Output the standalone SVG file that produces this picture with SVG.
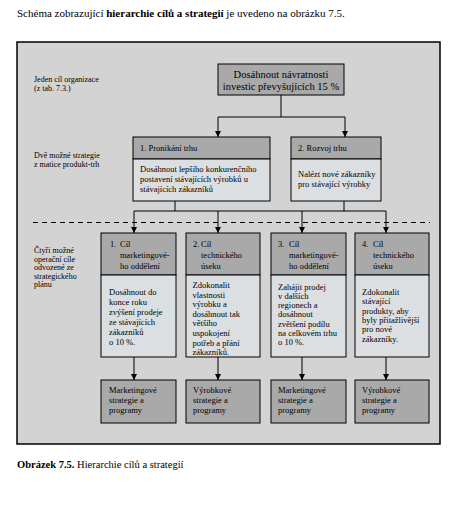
<svg xmlns="http://www.w3.org/2000/svg" width="456" height="513" viewBox="0 0 456 513" font-family="'Liberation Serif', 'Times New Roman', serif">
<defs>
<marker id="ah" viewBox="0 0 6 6" refX="6" refY="3" markerWidth="6" markerHeight="6" orient="auto" markerUnits="userSpaceOnUse">
<path d="M0,0 L6,3 L0,6 z" fill="#000"/>
</marker>
<style>
text{font-family:'Liberation Serif','Times New Roman',serif;fill:#000}
.t{font-size:11px}
.cap{font-size:10.5px}
.lbl{font-size:8px}
.s{font-size:8.5px}
.top{font-size:10.5px}
.hd{fill:#a9a9a9;stroke:#000;stroke-width:1}
.bd{fill:#dcdfe2;stroke:#000;stroke-width:1}
.ln{stroke:#000;stroke-width:1;fill:none}
.ar{stroke:#000;stroke-width:1;fill:none;marker-end:url(#ah)}
</style>
</defs>
<rect width="456" height="513" fill="#fff"/>
<text class="t" x="17" y="17">Schéma zobrazující <tspan font-weight="bold">hierarchie cílů a strategií</tspan> je uvedeno na obrázku 7.5.</text>
<rect x="17" y="42" width="423" height="402" fill="#d3d3d3" stroke="#000" stroke-width="1.5"/>

<g id="labels">
<text class="lbl" x="34" y="82">Jeden cíl organizace</text>
<text class="lbl" x="34" y="91">(z tab. 7.3.)</text>
<text class="lbl" x="34" y="158">Dvě možné strategie</text>
<text class="lbl" x="34" y="167">z matice produkt-trh</text>
<text class="lbl" x="34" y="253">Čtyři možné</text>
<text class="lbl" x="34" y="261.5">operační cíle</text>
<text class="lbl" x="34" y="270">odvozené ze</text>
<text class="lbl" x="34" y="278.5">strategického</text>
<text class="lbl" x="34" y="287">plánu</text>
</g>

<g id="connectors">
<path class="ln" d="M281,95 V117 M218,117 H345"/>
<path class="ar" d="M218,117 V137"/>
<path class="ar" d="M345,117 V137"/>
<path class="ln" d="M175,201 V211 M344,201 V211 M134,211 H386"/>
<path class="ar" d="M134,211 V233"/>
<path class="ar" d="M218,211 V233"/>
<path class="ar" d="M302,211 V233"/>
<path class="ar" d="M386,211 V233"/>
<path class="ar" d="M134,357 V380"/>
<path class="ar" d="M218,357 V380"/>
<path class="ar" d="M302,357 V380"/>
<path class="ar" d="M386,357 V380"/>
<path d="M33,222.5 H430" stroke="#000" stroke-width="1" stroke-dasharray="5,4"/>
</g>

<g id="goal">
<rect class="hd" x="218" y="64" width="126" height="31" fill="#a6a6a6"/>
<text class="top" x="281" y="78" text-anchor="middle">Dosáhnout návratnosti</text>
<text class="top" x="281" y="90" text-anchor="middle">investic převyšujících 15 %</text>
</g>

<g id="strategy1">
<rect class="hd" x="133" y="137" width="137" height="22"/>
<rect class="bd" x="133" y="159" width="137" height="42"/>
<text class="s" x="140" y="151">1.  Pronikání trhu</text>
<text class="s" x="140" y="172">Dosáhnout lepšího  konkurenčního</text>
<text class="s" x="140" y="182">postavení stávajících  výrobků  u</text>
<text class="s" x="140" y="192">stávajících zákazníků</text>
</g>

<g id="strategy2">
<rect class="hd" x="291" y="137" width="90" height="22"/>
<rect class="bd" x="291" y="159" width="90" height="42"/>
<text class="s" x="298" y="151">2.  Rozvoj trhu</text>
<text class="s" x="298" y="177">Nalézt nové zákazníky</text>
<text class="s" x="298" y="187">pro stávající výrobky</text>
</g>

<g id="op1">
<rect class="hd" x="101" y="233" width="75" height="42"/>
<rect class="bd" x="101" y="275" width="75" height="82"/>
<text class="s" x="110" y="247">1.</text>
<text class="s" x="120" y="247">Cíl</text>
<text class="s" x="120" y="258">marketingové-</text>
<text class="s" x="120" y="268.5">ho oddělení</text>
<text class="s" x="109" y="294.5">Dosáhnout do</text>
<text class="s" x="109" y="304.5">konce roku</text>
<text class="s" x="109" y="314.5">zvýšení prodeje</text>
<text class="s" x="109" y="324.5">ze stávajících</text>
<text class="s" x="109" y="334.5">zákazníků</text>
<text class="s" x="109" y="344.5">o 10 %.</text>
</g>

<g id="op2">
<rect class="hd" x="186" y="233" width="74" height="42"/>
<rect class="bd" x="186" y="275" width="74" height="82"/>
<text class="s" x="193" y="247">2.</text>
<text class="s" x="201" y="247">Cíl</text>
<text class="s" x="201" y="258">technického</text>
<text class="s" x="201" y="268.5">úseku</text>
<text class="s" x="192.5" y="288">Zdokonalit</text>
<text class="s" x="192.5" y="297.6">vlastnosti</text>
<text class="s" x="192.5" y="307.2">výrobku a</text>
<text class="s" x="192.5" y="316.8">dosáhnout tak</text>
<text class="s" x="192.5" y="326.4">většího</text>
<text class="s" x="192.5" y="336">uspokojení</text>
<text class="s" x="192.5" y="345.6">potřeb a přání</text>
<text class="s" x="192.5" y="355.2">zákazníků.</text>
</g>

<g id="op3">
<rect class="hd" x="271" y="233" width="75" height="42"/>
<rect class="bd" x="271" y="275" width="75" height="82"/>
<text class="s" x="278" y="247">3.</text>
<text class="s" x="289" y="247">Cíl</text>
<text class="s" x="289" y="258">marketingové-</text>
<text class="s" x="289" y="268.5">ho oddělení</text>
<text class="s" x="278" y="289.5">Zahájit prodej</text>
<text class="s" x="278" y="298.8">v dalších</text>
<text class="s" x="278" y="308.1">regionech a</text>
<text class="s" x="278" y="317.4">dosáhnout</text>
<text class="s" x="278" y="326.7">zvětšení podílu</text>
<text class="s" x="278" y="336">na celkovém trhu</text>
<text class="s" x="278" y="345.3">o 10 %.</text>
</g>

<g id="op4">
<rect class="hd" x="355" y="233" width="74" height="42"/>
<rect class="bd" x="355" y="275" width="74" height="82"/>
<text class="s" x="362" y="247">4.</text>
<text class="s" x="373" y="247">Cíl</text>
<text class="s" x="373" y="258">technického</text>
<text class="s" x="373" y="268.5">úseku</text>
<text class="s" x="362" y="295">Zdokonalit</text>
<text class="s" x="362" y="304.3">stávající</text>
<text class="s" x="362" y="313.6">produkty, aby</text>
<text class="s" x="362" y="322.9">byly přitažlivější</text>
<text class="s" x="362" y="332.2">pro nové</text>
<text class="s" x="362" y="341.5">zákazníky.</text>
</g>

<g id="prog1">
<rect class="hd" x="101" y="380" width="75" height="43"/>
<text class="s" x="109" y="393">Marketingové</text>
<text class="s" x="109" y="403">strategie a</text>
<text class="s" x="109" y="413">programy</text>
</g>
<g id="prog2">
<rect class="hd" x="186" y="380" width="74" height="43"/>
<text class="s" x="193" y="393">Výrobkové</text>
<text class="s" x="193" y="403">strategie a</text>
<text class="s" x="193" y="413">programy</text>
</g>
<g id="prog3">
<rect class="hd" x="271" y="380" width="75" height="43"/>
<text class="s" x="278" y="393">Marketingové</text>
<text class="s" x="278" y="403">strategie a</text>
<text class="s" x="278" y="413">programy</text>
</g>
<g id="prog4">
<rect class="hd" x="355" y="380" width="74" height="43"/>
<text class="s" x="362" y="393">Výrobkové</text>
<text class="s" x="362" y="403">strategie a</text>
<text class="s" x="362" y="413">programy</text>
</g>

<text class="cap" x="17" y="468"><tspan font-weight="bold">Obrázek 7.5.</tspan> Hierarchie cílů a strategií</text>
</svg>
